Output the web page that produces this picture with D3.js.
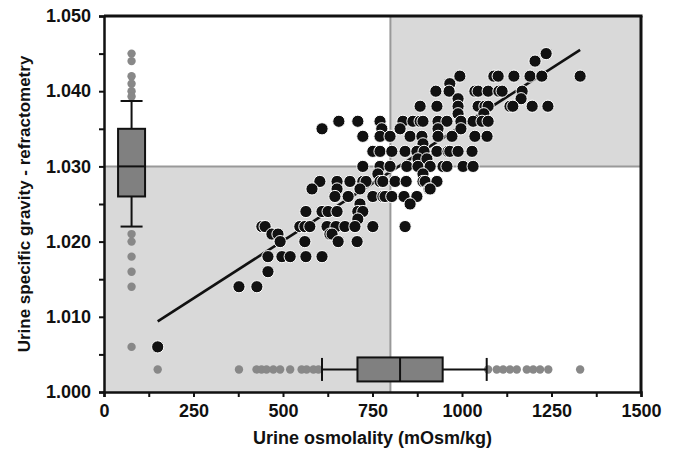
<!DOCTYPE html>
<html><head><meta charset="utf-8">
<script src="https://cdn.jsdelivr.net/npm/d3@7"></script>
<style>body{margin:0;background:#fff}svg{display:block}text{font-family:"Liberation Sans",Arial,sans-serif;font-weight:bold}</style>
</head><body><svg id="c" width="673" height="457"></svg>
<script>
// ---- data ----
const xTicks = [0, 250, 500, 750, 1000, 1250, 1500];
const yTicks = [1.000, 1.010, 1.020, 1.030, 1.040, 1.050];
const xCut = 800;
const yCut = 1.030;
// scatter: urine osmolality (mOsm/kg) vs specific gravity
const osm = [
 1235, 1204,
 994,1089,1101,1145,1190,1223,1330,
 966,
 927,964,1036,1045,1073,1103,1112,1168,
 989,1165,
 883,930,989,1045,1064,1073,1134,1142,1196,1240,
 989,1061,
 656,709,771,835,863,883,891,933,958,997,1031,1056,1073,
 609,776,827,933,997,
 723,771,799,855,888,933,972,1036,1070,
 891,
 751,771,804,841,874,894,930,961,966,989,1028,
 877,902,
 723,771,799,846,877,911,947,958,1003,1031,
 765,891,
 603,651,687,723,732,771,779,813,844,891,897,930,
 581,651,715,908,911,
 645,682,751,779,785,804,838,874,
 715,855,
 564,609,626,651,709,723,
 709,
 441,450,547,561,575,623,648,673,701,751,841,
 469,486,631,637,
 492,561,654,707,
 458,497,520,564,609,
 458,
 377,427,
 150
];
const sg = [
 1.045, 1.044,
 1.042,1.042,1.042,1.042,1.042,1.042,1.042,
 1.041,
 1.040,1.040,1.040,1.040,1.040,1.040,1.040,1.040,
 1.039,1.039,
 1.038,1.038,1.038,1.038,1.038,1.038,1.038,1.038,1.038,1.038,
 1.037,1.037,
 1.036,1.036,1.036,1.036,1.036,1.036,1.036,1.036,1.036,1.036,1.036,1.036,1.036,
 1.035,1.035,1.035,1.035,1.035,
 1.034,1.034,1.034,1.034,1.034,1.034,1.034,1.034,1.034,
 1.033,
 1.032,1.032,1.032,1.032,1.032,1.032,1.032,1.032,1.032,1.032,1.032,
 1.031,1.031,
 1.030,1.030,1.030,1.030,1.030,1.030,1.030,1.030,1.030,1.030,
 1.029,1.029,
 1.028,1.028,1.028,1.028,1.028,1.028,1.028,1.028,1.028,1.028,1.028,1.028,
 1.027,1.027,1.027,1.027,1.027,
 1.026,1.026,1.026,1.026,1.026,1.026,1.026,1.026,
 1.025,1.025,
 1.024,1.024,1.024,1.024,1.024,1.024,
 1.023,
 1.022,1.022,1.022,1.022,1.022,1.022,1.022,1.022,1.022,1.022,1.022,
 1.021,1.021,1.021,1.021,
 1.020,1.020,1.020,1.020,
 1.018,1.018,1.018,1.018,1.018,
 1.016,
 1.014,1.014,
 1.006
];
// regression line endpoints
const fitOsm = [150, 1330];
const fitSg = [1.0094, 1.0455];
// box plot of specific gravity (drawn at osm position sgBoxPos): whisker low, q1, median, q3, whisker high
const sgBoxStats = [1.022, 1.026, 1.030, 1.035, 1.0387];
const sgBoxPos = 77;
const sgOutliers = [1.045, 1.044, 1.042, 1.041, 1.040, 1.0393, 1.021, 1.020, 1.018, 1.016, 1.014, 1.006];
// box plot of osmolality (drawn at sg position osmBoxPos)
const osmBoxStats = [609, 708, 827, 946, 1069];
const osmBoxPos = 1.003;
const osmOutliers = [150, 377, 426, 440, 454, 473, 492, 520, 552, 566, 585, 599,
  1073, 1097, 1115, 1134, 1153, 1181, 1199, 1218, 1241, 1330];

// ---- chart ----
const svg = d3.select("#c");
const m = {l:104, t:16, r:32, b:65};
const W = 673 - m.l - m.r, H = 457 - m.t - m.b;
const x = d3.scaleLinear().domain([0,1500]).range([m.l, m.l + W]);
const y = d3.scaleLinear().domain([1.000,1.050]).range([m.t + H, m.t]);

// quadrant shading
svg.append("rect").attr("x", x(xCut)).attr("y", y(1.050)).attr("width", x(1500)-x(xCut)).attr("height", y(yCut)-y(1.050)).attr("fill","#d9d9d9");
svg.append("rect").attr("x", x(0)).attr("y", y(yCut)).attr("width", x(xCut)-x(0)).attr("height", y(1.000)-y(yCut)).attr("fill","#d9d9d9");
svg.append("line").attr("x1", x(xCut)).attr("x2", x(xCut)).attr("y1", y(1.050)).attr("y2", y(1.000)).attr("stroke","#999").attr("stroke-width",2);
svg.append("line").attr("x1", x(0)).attr("x2", x(1500)).attr("y1", y(yCut)).attr("y2", y(yCut)).attr("stroke","#999").attr("stroke-width",2);

// regression line
svg.append("line").attr("x1", x(fitOsm[0])).attr("y1", y(fitSg[0])).attr("x2", x(fitOsm[1])).attr("y2", y(fitSg[1]))
  .attr("stroke","#111").attr("stroke-width",2.6);

// scatter
svg.append("g").selectAll("circle").data(osm.map((v,i)=>[v, sg[i]])).join("circle")
  .attr("cx", d=>x(d[0])).attr("cy", d=>y(d[1])).attr("r",6.1)
  .attr("fill","#111").attr("stroke","#fff").attr("stroke-width",1);

// SG box plot (vertical)
const bx = x(sgBoxPos), bw = 27, cap = 22;
const gb = svg.append("g");
gb.selectAll("circle").data(sgOutliers).join("circle").attr("cx",bx).attr("cy",d=>y(d)).attr("r",4.2).attr("fill","#888");
gb.append("line").attr("x1",bx).attr("x2",bx).attr("y1",y(sgBoxStats[0])).attr("y2",y(sgBoxStats[4])).attr("stroke","#111").attr("stroke-width",2);
gb.append("line").attr("x1",bx-cap/2).attr("x2",bx+cap/2).attr("y1",y(sgBoxStats[0])).attr("y2",y(sgBoxStats[0])).attr("stroke","#111").attr("stroke-width",2);
gb.append("line").attr("x1",bx-cap/2).attr("x2",bx+cap/2).attr("y1",y(sgBoxStats[4])).attr("y2",y(sgBoxStats[4])).attr("stroke","#111").attr("stroke-width",2);
gb.append("rect").attr("x",bx-bw/2).attr("width",bw).attr("y",y(sgBoxStats[3])).attr("height",y(sgBoxStats[1])-y(sgBoxStats[3]))
  .attr("fill","#808080").attr("stroke","#111").attr("stroke-width",2);
gb.append("line").attr("x1",bx-bw/2).attr("x2",bx+bw/2).attr("y1",y(sgBoxStats[2])).attr("y2",y(sgBoxStats[2])).attr("stroke","#111").attr("stroke-width",2);

// Osm box plot (horizontal)
const by = y(osmBoxPos), bh = 24, capH = 23;
const go = svg.append("g");
go.selectAll("circle").data(osmOutliers).join("circle").attr("cx",d=>x(d)).attr("cy",by).attr("r",4.2).attr("fill","#888");
go.append("line").attr("x1",x(osmBoxStats[0])).attr("x2",x(osmBoxStats[4])).attr("y1",by).attr("y2",by).attr("stroke","#111").attr("stroke-width",2);
[0,4].forEach(i=>go.append("line").attr("x1",x(osmBoxStats[i])).attr("x2",x(osmBoxStats[i])).attr("y1",by-capH/2).attr("y2",by+capH/2).attr("stroke","#111").attr("stroke-width",2));
go.append("rect").attr("x",x(osmBoxStats[1])).attr("width",x(osmBoxStats[3])-x(osmBoxStats[1])).attr("y",by-bh/2).attr("height",bh)
  .attr("fill","#808080").attr("stroke","#111").attr("stroke-width",2);
go.append("line").attr("x1",x(osmBoxStats[2])).attr("x2",x(osmBoxStats[2])).attr("y1",by-bh/2).attr("y2",by+bh/2).attr("stroke","#111").attr("stroke-width",2);

// frame top/right
svg.append("line").attr("x1",x(0)).attr("x2",x(1500)+1.5).attr("y1",y(1.050)).attr("y2",y(1.050)).attr("stroke","#111").attr("stroke-width",3.2);
svg.append("line").attr("x1",x(1500)).attr("x2",x(1500)).attr("y1",y(1.050)).attr("y2",y(1.000)).attr("stroke","#111").attr("stroke-width",3);

// axes
const xAxis = d3.axisBottom(x).tickValues(d3.range(0,1501,125)).tickSize(5)
  .tickFormat(d => xTicks.includes(d) ? d : "");
const gx = svg.append("g").attr("transform",`translate(0,${y(1.000)})`).call(xAxis);
const yAxis = d3.axisLeft(y).tickValues(d3.range(0,11).map(i=>1+i*0.005)).tickSize(5)
  .tickFormat(d => yTicks.some(t=>Math.abs(t-d)<1e-9) ? d3.format(".3f")(d) : "");
const gy = svg.append("g").attr("transform",`translate(${x(0)},0)`).call(yAxis);
[gx,gy].forEach(g=>{
  g.select(".domain").attr("stroke","#111").attr("stroke-width",2.5);
  g.selectAll(".tick line").attr("stroke","#111").attr("stroke-width",2);
  g.selectAll(".tick text").attr("font-size",18).attr("font-family","Liberation Sans, Arial, sans-serif").attr("font-weight","bold").attr("fill","#111");
});
gx.selectAll(".tick text").attr("dy","0.71em").attr("y",12);
gy.selectAll(".tick text").attr("x",-13);

// titles
svg.append("text").attr("x", x(750)).attr("y", 444).attr("text-anchor","middle").attr("font-size",18).attr("fill","#111")
  .text("Urine osmolality (mOsm/kg)");
svg.append("text").attr("transform",`translate(30,${y(1.025)}) rotate(-90)`).attr("text-anchor","middle").attr("font-size",17).attr("fill","#111")
  .text("Urine specific gravity - refractometry");
</script></body></html>
